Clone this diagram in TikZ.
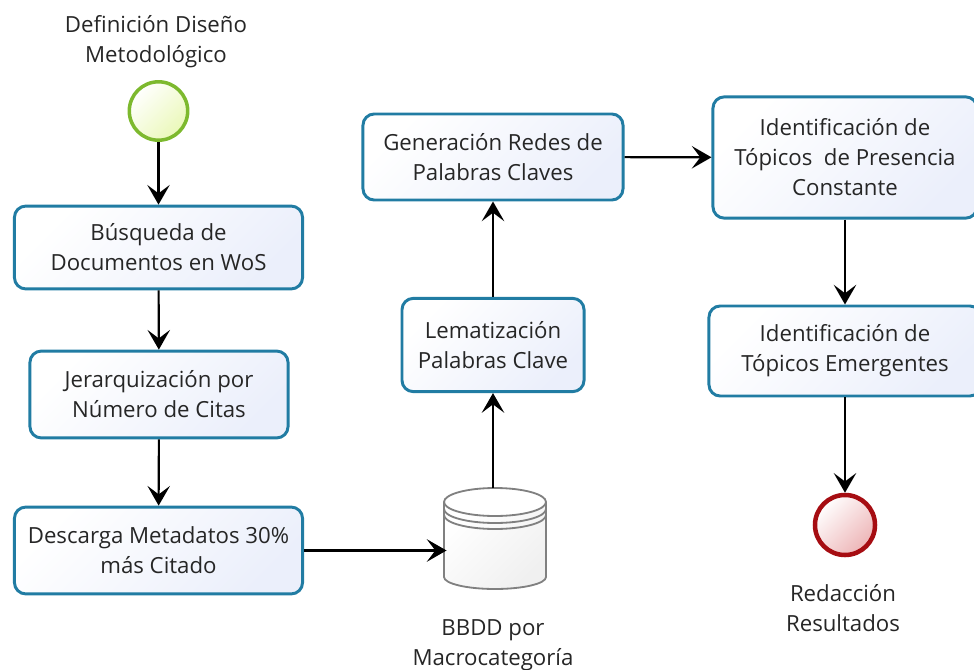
\documentclass[tikz,border=0pt]{standalone}
\usepackage{fontspec}
\setmainfont{Open Sans}
\usetikzlibrary{arrows.meta}
\definecolor{boxline}{HTML}{217CA3}
\definecolor{boxfill}{HTML}{EBEFFB}
\definecolor{startline}{HTML}{7DB92E}
\definecolor{startfill}{HTML}{EAF8B8}
\definecolor{endline}{HTML}{A60D12}
\definecolor{endfill}{HTML}{EDB4B6}
\definecolor{dbline}{HTML}{808080}
\definecolor{labeltext}{HTML}{262626}
\tikzset{
  task/.style={draw=boxline,line width=2.1pt,rounded corners=8pt,left color=white,right color=boxfill,shading angle=45,
    text=labeltext,align=center,font=\fontsize{15.8}{21.3}\selectfont,inner sep=0pt},
  startevent/.style={circle,draw=startline,line width=2.5pt,left color=white,right color=startfill,shading angle=45,minimum size=1.46cm,inner sep=0pt},
  endevent/.style={circle,draw=endline,line width=3.2pt,left color=white,right color=endfill,shading angle=45,minimum size=1.5cm,inner sep=0pt},
  caption/.style={text=labeltext,align=center,font=\fontsize{15.8}{21.3}\selectfont,inner sep=0pt},
  flow/.style={-{Stealth[length=14pt,width=16pt,inset=6pt]},line width=1.5pt,black},
  dbline/.style={draw=dbline,line width=1.3pt},
}
\begin{document}
\begin{tikzpicture}[x=0.025cm,y=-0.025cm]
\useasboundingbox (0,0) rectangle (974,670);
% left column
\node[caption] (startlabel) at (156,41.5) {Definición Diseño\\Metodológico};
\node[startevent] (start) at (158.5,111) {};
\node[task,minimum width=7.2cm,minimum height=2.07cm] (busqueda) at (158.5,247.5) {Búsqueda de\\Documentos en WoS};
\node[task,minimum width=6.45cm,minimum height=2.17cm] (jerarquia) at (159,394.5) {Jerarquización por\\Número de Citas};
\node[task,minimum width=7.2cm,minimum height=2.17cm] (descarga) at (158.5,550.5) {Descarga Metadatos 30\%\\más Citado};
% data store
\node[minimum width=2.55cm,minimum height=2.53cm,inner sep=0pt] (bbdd) at (495,539) {};
\fill[left color=white,right color=black!6,shading angle=45] (444,502) -- (444,577) arc[start angle=180,end angle=360,x radius=51,y radius=-12] -- (546,502) arc[start angle=0,end angle=180,x radius=51,y radius=14];
\draw[dbline] (444,502) -- (444,577) arc[start angle=180,end angle=360,x radius=51,y radius=-12] -- (546,502);
\draw[dbline] (444,509) arc[start angle=180,end angle=360,x radius=51,y radius=-14];
\draw[dbline] (444,515) arc[start angle=180,end angle=360,x radius=51,y radius=-14];
\draw[dbline,fill=white] (495,502) ellipse[x radius=51,y radius=14];
\node[caption] (bbddlabel) at (493,645.5) {BBDD por\\Macrocategoría};
% middle column
\node[task,minimum width=4.55cm,minimum height=2.33cm] (lema) at (493,345) {Lematización\\Palabras Clave};
\node[task,minimum width=6.5cm,minimum height=2.15cm] (redes) at (493,157) {Generación Redes de\\Palabras Claves};
% right column
\node[task,minimum width=6.6cm,minimum height=3.03cm] (constante) at (845,157.5) {Identificación de\\Tópicos\ \ de Presencia\\Constante};
\node[task,minimum width=6.8cm,minimum height=2.25cm] (emergentes) at (845,351) {Identificación de\\Tópicos Emergentes};
\node[endevent] (end) at (845,525) {};
\node[caption] (endlabel) at (843,608.5) {Redacción\\Resultados};
% flows
\draw[flow] (start) -- (busqueda);
\draw[flow] (busqueda) -- (jerarquia);
\draw[flow] (jerarquia) -- (descarga);
\draw[flow,shorten >=-2pt] (descarga.east) -- (descarga.east -| bbdd.west);
\draw[flow] (bbdd.north -| lema.south) -- (lema.south);
\draw[flow] (lema) -- (redes);
\draw[flow] (redes) -- (constante);
\draw[flow] (constante) -- (emergentes);
\draw[flow] (emergentes) -- (end);
\end{tikzpicture}
\end{document}
